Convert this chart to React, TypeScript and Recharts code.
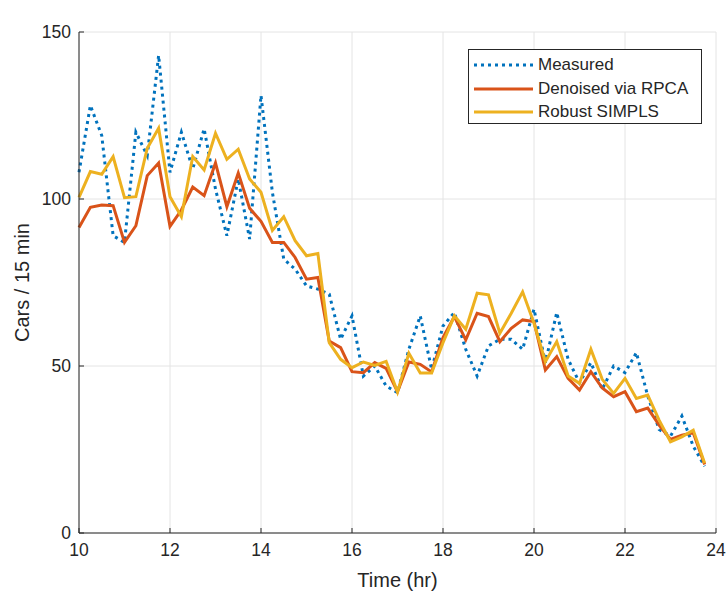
import React from 'react';
import { LineChart, Line, XAxis, YAxis, CartesianGrid, Legend } from 'recharts';

const times = [
  10, 10.25, 10.5, 10.75, 11, 11.25, 11.5, 11.75, 12, 12.25, 12.5, 12.75, 13, 13.25,
  13.5, 13.75, 14, 14.25, 14.5, 14.75, 15, 15.25, 15.5, 15.75, 16, 16.25, 16.5, 16.75,
  17, 17.25, 17.5, 17.75, 18, 18.25, 18.5, 18.75, 19, 19.25, 19.5, 19.75, 20, 20.25,
  20.5, 20.75, 21, 21.25, 21.5, 21.75, 22, 22.25, 22.5, 22.75, 23, 23.25, 23.5, 23.75,
];

const measured = [
  108, 128, 119, 89, 87, 120, 113, 143, 108, 120, 109, 121, 103, 89,
  106, 88, 131, 102, 82, 79, 74, 73, 71.5, 58, 65, 47, 50, 44,
  42, 55, 65, 49, 62, 66, 55, 47, 56, 58, 58, 55, 67, 51,
  66, 52, 45, 51, 43, 50, 48, 54, 41, 31, 29, 35, 26, 20,
];

const denoised = [
  91.5, 97.5, 98.2, 98, 87, 92, 107, 110.8, 91.8, 96.7, 103.6, 101, 110.8, 97.7,
  107.8, 97.2, 93.3, 87, 87, 82.5, 76, 76.5, 57.5, 55.5, 48.3, 48, 51, 49.3,
  42.3, 51.2, 50.5, 48.2, 58.5, 64.8, 57.8, 65.8, 64.8, 57.3, 61.3, 63.8, 63.3, 48.8,
  52.8, 46.3, 42.8, 48.3, 43.4, 40.8, 42.3, 36.3, 37.4, 32.3, 28, 29.3, 30, 20.5,
];

const simpls = [
  100.5, 108.2, 107.4, 112.7, 100.4, 100.7, 115.2, 121.2, 100.7, 94.7, 112.7, 108.7, 119.7, 111.9,
  114.9, 106, 102, 90.6, 94.7, 87.5, 83, 83.7, 57, 52, 49.5, 51.2, 50.2, 51.4,
  42.2, 53.8, 47.9, 47.9, 57, 65, 61, 71.8, 71.3, 59.8, 65.8, 72.2, 62.8, 51.3,
  57.3, 47, 44.8, 55, 46, 41.8, 46.3, 40.3, 41.3, 33.8, 27.3, 28.8, 30.8, 20.9,
];

const xTicks = [10, 12, 14, 16, 18, 20, 22, 24];
const yTicks = [0, 50, 100, 150];
const seriesNames = ['Measured', 'Denoised via RPCA', 'Robust SIMPLS'];
const seriesColors = ['#0072BD', '#D95319', '#EDB120'];
const titleText = 'Eastbound Left @ Int. 1664';
const xLabel = 'Time (hr)';
const yLabel = 'Cars / 15 min';

const data = times.map((t, i) => ({
  t,
  measured: measured[i],
  denoised: denoised[i],
  simpls: simpls[i],
}));

const AXIS = '#262626';
const FONT = '"Liberation Sans", Arial, Helvetica, sans-serif';

const LegendBox = (props: any) => {
  const payload = [...(props.payload || [])].sort(
    (a: any, b: any) => seriesNames.indexOf(a.value) - seriesNames.indexOf(b.value)
  );
  return (
    <div
      style={{
        position: 'relative',
        width: 232,
        height: 73,
        border: `1px solid ${AXIS}`,
        background: '#fff',
        fontFamily: FONT,
        fontSize: 17,
        color: AXIS,
      }}
    >
      {payload.map((p: any, k: number) => {
        const dashed = p.dataKey === 'measured';
        return (
          <div
            key={p.value}
            style={{
              position: 'absolute',
              left: 0,
              top: 4 + k * 23.5,
              height: 22,
              display: 'flex',
              alignItems: 'center',
              whiteSpace: 'nowrap',
            }}
          >
            <svg width={66} height={22} style={{ display: 'block' }}>
              <line
                x1={5}
                x2={64}
                y1={11}
                y2={11}
                stroke={p.color}
                strokeWidth={3}
                strokeDasharray={dashed ? '3 4' : undefined}
              />
            </svg>
            <span style={{ marginLeft: 3, lineHeight: '22px' }}>{p.value}</span>
          </div>
        );
      })}
    </div>
  );
};

export default function App() {
  return (
    <div style={{ position: 'absolute', left: 0, top: 0, width: 727, height: 596, background: '#fff', fontFamily: FONT }}>
      <LineChart width={727} height={596} data={data} margin={{ top: 32, right: 11, bottom: 0, left: 0 }}>
        <CartesianGrid stroke="#e4e4e4" strokeWidth={1} />
        <XAxis
          dataKey="t"
          type="number"
          domain={[10, 24]}
          ticks={xTicks}
          height={63}
          stroke={AXIS}
          tickSize={-5}
          tickMargin={16}
          tick={{ fill: AXIS, fontSize: 17.5 }}
          interval={0}
          label={{ value: xLabel, position: 'insideBottom', offset: 9, style: { fill: AXIS, fontSize: 20 } }}
        />
        <XAxis
          xAxisId="top"
          dataKey="t"
          type="number"
          orientation="top"
          domain={[10, 24]}
          ticks={xTicks}
          height={0}
          stroke={AXIS}
          tickSize={-5}
          tick={false}
          interval={0}
          label={{ value: titleText, position: 'top', offset: 7, style: { fill: '#000', fontSize: 21, fontWeight: 'bold' } }}
        />
        <YAxis
          type="number"
          domain={[0, 150]}
          ticks={yTicks}
          width={79}
          stroke={AXIS}
          tickSize={-5}
          tickMargin={13}
          tick={{ fill: AXIS, fontSize: 17.5 }}
          interval={0}
          label={{ value: yLabel, angle: -90, position: 'insideLeft', offset: 22, style: { fill: AXIS, fontSize: 20, textAnchor: 'middle' } }}
        />
        <YAxis
          yAxisId="right"
          orientation="right"
          type="number"
          domain={[0, 150]}
          ticks={yTicks}
          width={0}
          stroke={AXIS}
          tickSize={-5}
          tick={false}
          interval={0}
        />
        <Legend
          layout="vertical"
          align="center"
          verticalAlign="middle"
          content={<LegendBox />}
          wrapperStyle={{ position: 'absolute', left: 468, top: 49, width: 234, height: 75 }}
        />
        <Line
          type="linear"
          dataKey="measured"
          name={seriesNames[0]}
          stroke={seriesColors[0]}
          strokeWidth={3}
          strokeDasharray="3 4"
          dot={false}
          activeDot={false}
          isAnimationActive={false}
        />
        <Line
          type="linear"
          dataKey="denoised"
          name={seriesNames[1]}
          stroke={seriesColors[1]}
          strokeWidth={3}
          dot={false}
          activeDot={false}
          isAnimationActive={false}
        />
        <Line
          type="linear"
          dataKey="simpls"
          name={seriesNames[2]}
          stroke={seriesColors[2]}
          strokeWidth={3}
          dot={false}
          activeDot={false}
          isAnimationActive={false}
        />
      </LineChart>
    </div>
  );
}
